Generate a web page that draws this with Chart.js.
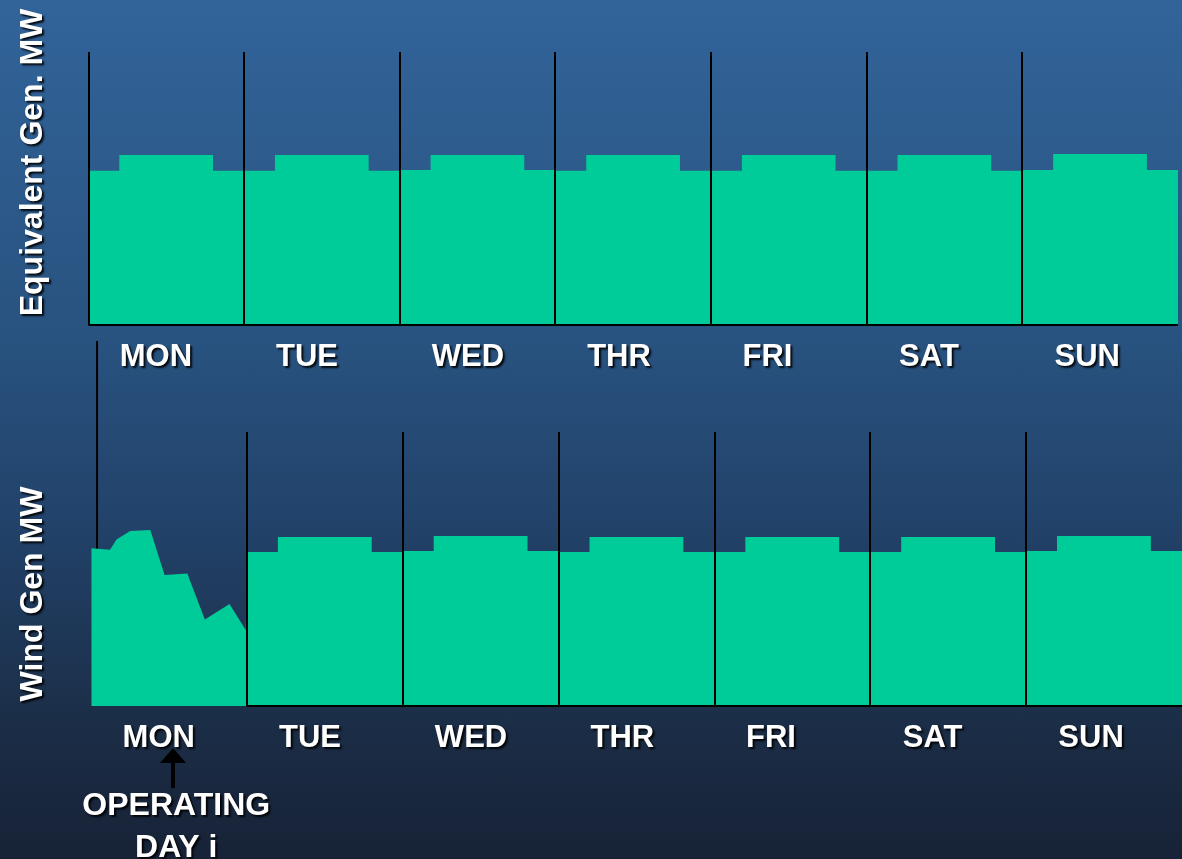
<!DOCTYPE html>
<html>
<head>
<meta charset="utf-8">
<script src="https://cdn.jsdelivr.net/npm/chart.js@4.4.1/dist/chart.umd.min.js"></script>
<style>
  html, body {
    margin: 0;
    padding: 0;
    width: 1182px;
    height: 859px;
    overflow: hidden;
    background: linear-gradient(180deg, #32649a 0%, #2e5d8f 15%, #28527f 40%, #22436b 60%, #1b2d46 85%, #172236 100%);
  }
  canvas { position: absolute; left: 0; top: 0; }
</style>
</head>
<body>
<canvas id="eq-chart" width="1182" height="859"></canvas>
<canvas id="wind-chart" width="1182" height="859"></canvas>
<script>
// week axis in hours, one block per day
const dayLabels = ['MON', 'TUE', 'WED', 'THR', 'FRI', 'SAT', 'SUN'];
const labelHours = [10.4, 33.7, 58.5, 81.8, 104.7, 129.6, 154];
const stepUpHour = 4.75;
const stepDownHour = 19.2;

// equivalent generation: off-peak / on-peak level per day
const eqLow  = [56.5, 56.5, 56.8, 56.5, 56.5, 56.5, 56.8];
const eqHigh = [62.3, 62.3, 62.3, 62.3, 62.3, 62.3, 62.6];
const eqDayLines = [0, 24, 48, 72, 96, 120, 144];

// wind generation: monday is the actual wind profile, rest are blocks
const windMonHours  = [0, 2.9, 3.9, 6.0, 9.1, 11.3, 14.8, 17.5, 21.3, 23.8];
const windMonValues = [57.6, 57.0, 60.8, 63.9, 64.2, 47.8, 48.4, 31.6, 37.2, 27.7];
const windLow  = [null, 56.2, 56.6, 56.2, 56.2, 56.2, 56.6];
const windHigh = [null, 61.7, 62.0, 61.7, 61.7, 61.7, 62.0];
const windDayLines = [24, 48, 72, 96, 120, 144];
const windMarker = { hour: 0.9, top: 133.2 };

const operatingDay = { lines: ['OPERATING', 'DAY i'], hour: 13.1, arrowHour: 12.6 };

const FILL = '#00cc99';
const DAY_FONT = 'bold 31px "Liberation Sans", Arial, sans-serif';
const TITLE_FONT = 'bold 32px "Liberation Sans", Arial, sans-serif';

function stepDay(d, low, high) {
  const s = d * 24;
  return [
    { x: s, y: low },
    { x: s + stepUpHour, y: low },
    { x: s + stepUpHour, y: high },
    { x: s + stepDownHour, y: high },
    { x: s + stepDownHour, y: low },
    { x: s + 24, y: low }
  ];
}

function textShadow(ctx) {
  ctx.shadowColor = 'rgba(0,0,0,0.9)';
  ctx.shadowOffsetX = 2;
  ctx.shadowOffsetY = 2;
  ctx.shadowBlur = 2;
}

// day names, rotated axis title and optional note
const panelText = {
  id: 'panelText',
  afterDraw(chart, args, opts) {
    const { ctx, chartArea } = chart;
    const x = chart.scales.x;
    ctx.save();

    if (opts.note) {
      // arrow up to the operating day label
      const ax = x.getPixelForValue(opts.note.arrowHour);
      const ay = chartArea.bottom + 42;
      ctx.fillStyle = '#000';
      ctx.fillRect(ax - 2, ay + 12, 4, 28);
      ctx.beginPath();
      ctx.moveTo(ax, ay);
      ctx.lineTo(ax - 13, ay + 15);
      ctx.lineTo(ax + 13, ay + 15);
      ctx.closePath();
      ctx.fill();
    }

    ctx.font = DAY_FONT;
    ctx.fillStyle = '#fff';
    ctx.textAlign = 'center';
    ctx.textBaseline = 'alphabetic';
    textShadow(ctx);

    dayLabels.forEach((lab, i) => {
      ctx.fillText(lab, x.getPixelForValue(labelHours[i]), chartArea.bottom + 41);
    });

    ctx.font = TITLE_FONT;
    if (opts.note) {
      const nx = x.getPixelForValue(opts.note.hour);
      ctx.fillText(opts.note.lines[0], nx, chartArea.bottom + 109);
      ctx.fillText(opts.note.lines[1], nx, chartArea.bottom + 151);
    }

    ctx.save();
    ctx.translate(42, opts.titleY);
    ctx.rotate(-Math.PI / 2);
    ctx.fillText(opts.title, 0, 0);
    ctx.restore();

    ctx.restore();
  }
};

function panelOptions(padding, dayLines, title, titleY, note) {
  return {
    responsive: false,
    animation: false,
    devicePixelRatio: 1,
    layout: { padding: padding },
    elements: { point: { radius: 0 }, line: { tension: 0 } },
    scales: {
      x: {
        type: 'linear',
        min: 0,
        max: 168,
        ticks: { display: false, stepSize: 24 },
        border: { display: false },
        grid: {
          z: 1,
          drawTicks: false,
          lineWidth: 2,
          color: c => dayLines.includes(c.tick.value) ? '#000' : 'rgba(0,0,0,0)'
        }
      },
      y: { display: false, min: 0, max: 100 }
    },
    plugins: {
      legend: { display: false },
      tooltip: { enabled: false },
      panelText: { title: title, titleY: titleY, note: note }
    }
  };
}

// top panel
const eqData = [];
dayLabels.forEach((d, i) => eqData.push(...stepDay(i, eqLow[i], eqHigh[i])));

new Chart(document.getElementById('eq-chart'), {
  type: 'line',
  data: {
    datasets: [
      {
        label: 'baseline',
        data: [{ x: 0, y: 0 }, { x: 168, y: 0 }],
        borderColor: '#000',
        borderWidth: 2,
        fill: false,
        clip: false
      },
      {
        label: 'Equivalent Gen. MW',
        data: eqData,
        borderWidth: 0,
        borderColor: FILL,
        backgroundColor: FILL,
        fill: 'origin',
        clip: false
      }
    ]
  },
  options: panelOptions({ left: 88.5, right: 4, top: 52, bottom: 534 }, eqDayLines, 'Equivalent Gen. MW', 162.5, null),
  plugins: [panelText]
});

// bottom panel
const windData = windMonHours.map((h, i) => ({ x: h, y: windMonValues[i] }));
dayLabels.forEach((d, i) => {
  if (i > 0) windData.push(...stepDay(i, windLow[i], windHigh[i]));
});

new Chart(document.getElementById('wind-chart'), {
  type: 'line',
  data: {
    datasets: [
      {
        label: 'baseline',
        data: [{ x: 24, y: 0 }, { x: 168, y: 0 }],
        borderColor: '#000',
        borderWidth: 2,
        fill: false,
        clip: false
      },
      {
        label: 'Wind Gen MW',
        data: windData,
        borderWidth: 0,
        borderColor: FILL,
        backgroundColor: FILL,
        fill: 'origin',
        clip: false
      },
      {
        label: 'marker',
        data: [{ x: windMarker.hour, y: 0 }, { x: windMarker.hour, y: windMarker.top }],
        borderColor: '#000',
        borderWidth: 2,
        fill: false,
        clip: false
      }
    ]
  },
  options: panelOptions({ left: 91.2, right: 0, top: 432, bottom: 153 }, windDayLines, 'Wind Gen MW', 594, operatingDay),
  plugins: [panelText]
});
</script>
</body>
</html>
